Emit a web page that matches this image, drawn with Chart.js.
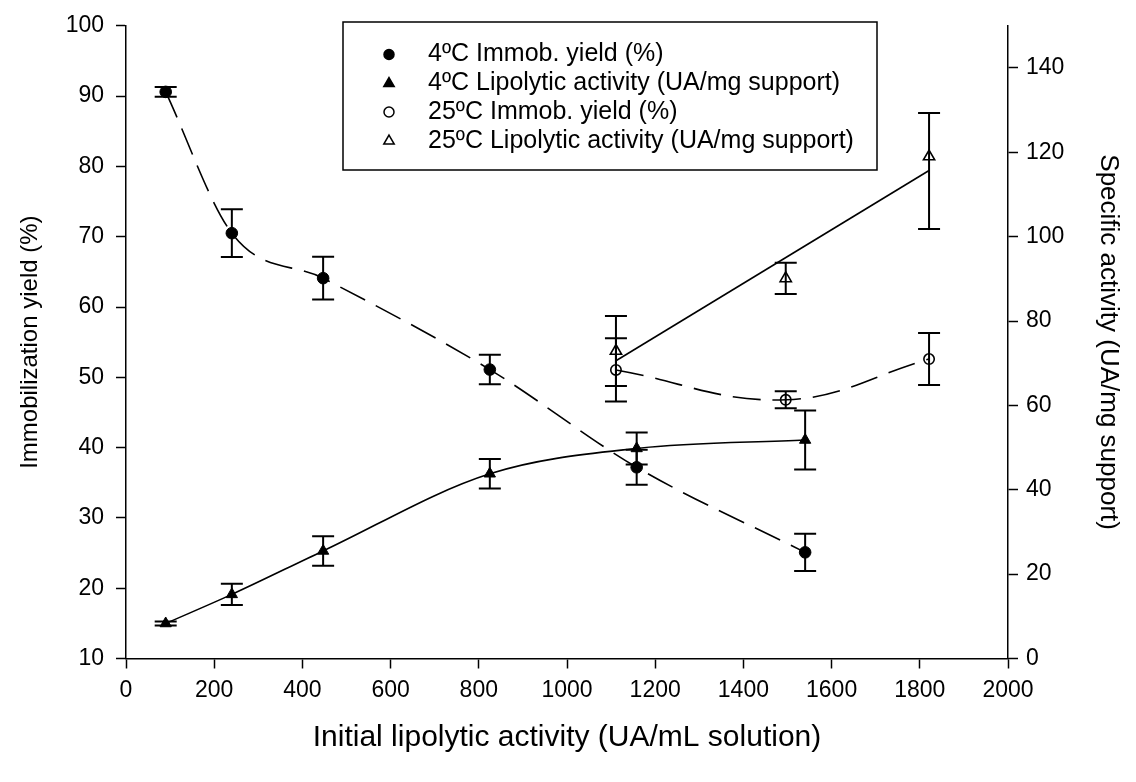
<!DOCTYPE html>
<html><head><meta charset="utf-8">
<script src="https://cdn.jsdelivr.net/npm/chart.js@4"></script>
<style>html,body{margin:0;padding:0;background:#fff}canvas{display:block}</style>
</head><body>
<canvas id="c" width="1136" height="782"></canvas>
<script>
const FONT = '"Liberation Sans", Arial, sans-serif';

// tick labels
const xTicks = [0, 200, 400, 600, 800, 1000, 1200, 1400, 1600, 1800, 2000];
const leftTicks = [10, 20, 30, 40, 50, 60, 70, 80, 90, 100];
const rightTicks = [0, 20, 40, 60, 80, 100, 120, 140];

const seriesLabels = [
  '4ºC Immob. yield (%)',
  '4ºC Lipolytic activity (UA/mg support)',
  '25ºC Immob. yield (%)',
  '25ºC Lipolytic activity (UA/mg support)'
];

// 4 ºC series
const x4 = [90, 240, 447, 825, 1158, 1540];
const yield4 = [90.6, 70.5, 64.1, 51.1, 37.2, 25.1];
const yield4Err = [0.7, 3.4, 3.05, 2.1, 2.5, 2.65];
const lipo4 = [8.3, 15.2, 25.5, 43.8, 49.8, 51.8];
const lipo4Err = [0.5, 2.5, 3.5, 3.5, 3.8, 7.0];

// 25 ºC series
const x25 = [1111, 1496, 1821];
const yield25 = [51.05, 46.8, 52.6];
const yield25Err = [4.5, 1.2, 3.7];
const lipo25 = [72.9, 90.1, 119.0];
const lipo25ErrUp = [8.3, 3.7, 10.3];
const lipo25ErrDown = [8.3, 3.7, 17.2];

// fitted straight line for 25 ºC lipolytic activity
const fitX25 = [1111, 1821];
const fitLipo25 = [70.6, 115.7];

const pts = (xs, ys) => xs.map((x, i) => ({x: x, y: ys[i]}));

const errorBars = {
  id: 'errorBars',
  afterDatasetsDraw(chart) {
    const ctx = chart.ctx;
    chart.data.datasets.forEach((ds, i) => {
      if (!ds.errUp) return;
      const ys = chart.scales[ds.yAxisID], xs = chart.scales.x;
      ctx.save();
      ctx.strokeStyle = '#000';
      ctx.lineWidth = 2;
      ds.data.forEach((p, j) => {
        const px = xs.getPixelForValue(p.x);
        const top = ys.getPixelForValue(p.y + ds.errUp[j]);
        const bot = ys.getPixelForValue(p.y - ds.errDown[j]);
        ctx.beginPath();
        ctx.moveTo(px, top); ctx.lineTo(px, bot);
        ctx.moveTo(px - 11, top); ctx.lineTo(px + 11, top);
        ctx.moveTo(px - 11, bot); ctx.lineTo(px + 11, bot);
        ctx.stroke();
      });
      ctx.restore();
    });
  }
};

const boxLegend = {
  id: 'boxLegend',
  afterDraw(chart) {
    const ctx = chart.ctx;
    const L = 343, T = 22, R = 877, B = 170;
    ctx.save();
    ctx.fillStyle = '#fff';
    ctx.fillRect(L, T, R - L, B - T);
    ctx.lineWidth = 1.5;
    ctx.strokeStyle = '#000';
    ctx.strokeRect(L, T, R - L, B - T);
    ctx.font = '25px ' + FONT;
    ctx.textBaseline = 'middle';
    const rows = [54.5, 83.5, 112, 141];
    for (let i = 0; i < 4; i++) {
      const ds = chart.data.datasets[i];
      ctx.fillStyle = ds.pointBackgroundColor;
      ctx.strokeStyle = '#000';
      ctx.lineWidth = 1.5;
      Chart.helpers.drawPoint(ctx, {pointStyle: ds.pointStyle, radius: ds.pointStyle === 'triangle' ? 6 : 5, borderWidth: 1.5, rotation: 0}, 389, rows[i]);
      ctx.fillStyle = '#000';
      ctx.fillText(seriesLabels[i], 428, rows[i]);
    }
    ctx.restore();
  }
};

const axisCommon = (size, pad) => ({
  grid: {display: true, drawOnChartArea: false, drawTicks: true, tickLength: 10, tickColor: '#000', tickWidth: 1.5},
  border: {display: true, color: '#000', width: 1.5},
  ticks: {color: '#000', font: {family: FONT, size: size}, padding: pad, autoSkip: false, maxRotation: 0,
          callback: v => String(v)}
});

new Chart(document.getElementById('c'), {
  type: 'scatter',
  data: {
    datasets: [
      {label: seriesLabels[0], yAxisID: 'yL', data: pts(x4, yield4), showLine: true,
       borderColor: '#000', borderWidth: 1.6, borderDash: [28, 12], cubicInterpolationMode: 'monotone',
       pointStyle: 'circle', pointRadius: 5.8, pointBackgroundColor: '#000', pointBorderColor: '#000', pointBorderWidth: 1,
       errUp: yield4Err, errDown: yield4Err},
      {label: seriesLabels[1], yAxisID: 'yR', data: pts(x4, lipo4), showLine: true,
       borderColor: '#000', borderWidth: 1.6, cubicInterpolationMode: 'monotone',
       pointStyle: 'triangle', pointRadius: 6.5, pointBackgroundColor: '#000', pointBorderColor: '#000', pointBorderWidth: 1,
       errUp: lipo4Err, errDown: lipo4Err},
      {label: seriesLabels[2], yAxisID: 'yL', data: pts(x25, yield25), showLine: true,
       borderColor: '#000', borderWidth: 1.6, borderDash: [28, 12], tension: 0.4,
       pointStyle: 'circle', pointRadius: 5.2, pointBackgroundColor: 'rgba(255,255,255,0)', pointBorderColor: '#000', pointBorderWidth: 1.6,
       errUp: yield25Err, errDown: yield25Err},
      {label: seriesLabels[3], yAxisID: 'yR', data: pts(x25, lipo25), showLine: false,
       pointStyle: 'triangle', pointRadius: 6.5, pointBackgroundColor: 'rgba(255,255,255,0)', pointBorderColor: '#000', pointBorderWidth: 1.6,
       errUp: lipo25ErrUp, errDown: lipo25ErrDown},
      {label: 'fit', yAxisID: 'yR', data: pts(fitX25, fitLipo25), showLine: true,
       borderColor: '#000', borderWidth: 1.6, pointRadius: 0}
    ]
  },
  options: {
    responsive: false,
    animation: false,
    events: [],
    layout: {padding: {top: 24, left: 0, right: 0, bottom: 0}},
    plugins: {legend: {display: false}, tooltip: {enabled: false}},
    scales: {
      x: Object.assign(axisCommon(23, 8), {
        type: 'linear', min: 0, max: 2000,
        afterBuildTicks: s => { s.ticks = xTicks.map(v => ({value: v})); },
        afterFit: s => { s.height = 123.5; },
        title: {display: true, text: 'Initial lipolytic activity (UA/mL solution)', color: '#000',
                font: {family: FONT, size: 30}, padding: {top: 0, bottom: 26}}
      }),
      yL: Object.assign(axisCommon(23, 12), {
        type: 'linear', position: 'left', min: 10, max: 100,
        afterBuildTicks: s => { s.ticks = leftTicks.map(v => ({value: v})); },
        afterFit: s => { s.width = 126; },
        title: {display: true, text: 'Immobilization yield (%)', color: '#000',
                font: {family: FONT, size: 24}, padding: {top: 16, bottom: 0}}
      }),
      yR: Object.assign(axisCommon(23, 8), {
        type: 'linear', position: 'right', min: 0, max: 150,
        afterBuildTicks: s => { s.ticks = rightTicks.map(v => ({value: v})); },
        afterFit: s => { s.width = 128; },
        title: {display: true, text: 'Specific activity (UA/mg support)', color: '#000',
                font: {family: FONT, size: 26}, padding: {top: 12, bottom: 0}}
      })
    }
  },
  plugins: [errorBars, boxLegend]
});
</script>
</body></html>
